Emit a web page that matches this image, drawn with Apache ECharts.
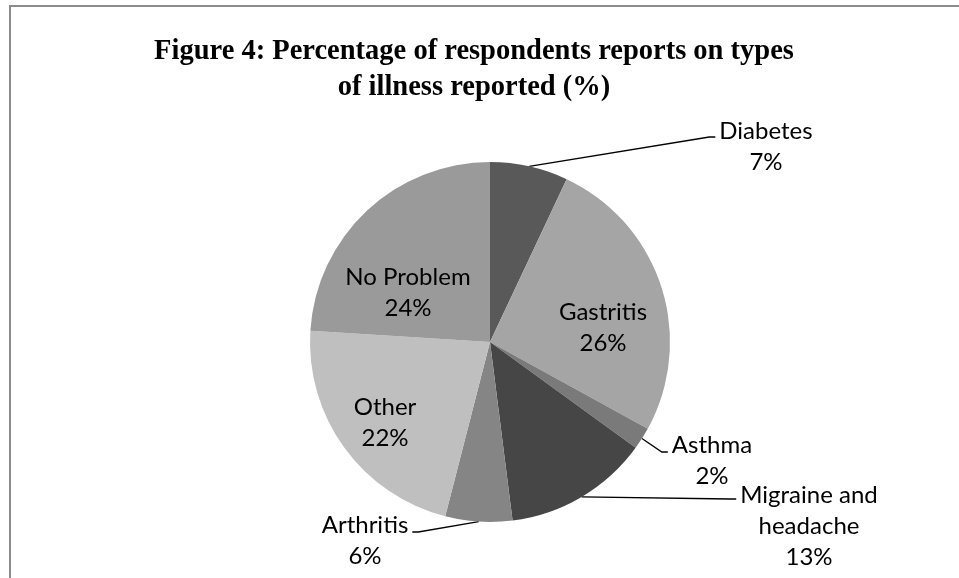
<!DOCTYPE html>
<html>
<head>
<meta charset="utf-8">
<script src="https://cdn.jsdelivr.net/npm/echarts@6/dist/echarts.min.js"></script>
<style>
html,body{margin:0;padding:0;background:#fff;}
#frame{position:absolute;left:9px;top:5px;width:1000px;height:700px;border-left:2px solid #8c8c8c;border-top:2px solid #8c8c8c;box-sizing:border-box;}
#chart{position:absolute;left:0;top:0;width:959px;height:578px;}
</style>
</head>
<body>
<div id="frame"></div>
<div id="chart"></div>
<script>
const categories = ['Diabetes', 'Gastritis', 'Asthma', 'Migraine and\nheadache', 'Arthritis', 'Other', 'No Problem'];
const values = [7, 26, 2, 13, 6, 22, 24];
const colors = ['#595959', '#a5a5a5', '#7a7a7a', '#464646', '#858585', '#bfbfbf', '#9a9a9a'];
const insideSet = ['Gastritis', 'Other', 'No Problem'];

// label placement: [centre x, centre y of text, leader-line attach y]
const labelPos = {
  'Diabetes': [766, 147, 137],
  'Gastritis': [603, 328, 328],
  'Asthma': [712, 461, 452],
  'Migraine and\nheadache': [809, 526, 499],
  'Arthritis': [365, 541, 532],
  'Other': [385, 423, 423],
  'No Problem': [408, 293, 293]
};

const txt = {fontFamily: 'Lato', fontSize: 24, color: '#000', lineHeight: 31};

const chart = echarts.init(document.getElementById('chart'));
chart.setOption({
  animation: false,
  title: {
    text: 'Figure 4: Percentage of respondents reports on types\nof illness reported (%)',
    left: 469, top: 29, textAlign: 'center',
    textStyle: {fontFamily: 'Liberation Serif', fontWeight: 'bold', fontSize: 28.5, color: '#000', lineHeight: 36}
  },
  series: [{
    type: 'pie',
    center: [490, 342],
    radius: 180,
    startAngle: 90,
    clockwise: true,
    data: categories.map((c, i) => {
      const lp = labelPos[c];
      const shift = lp[1] - lp[2];
      const lines = c.split('\n').concat([values[i] + '%']).map(s => '{t|' + s + '}');
      const rich = {t: Object.assign({padding: [0, 4, 0, 4]}, txt)};
      let fmt = lines.join('\n');
      if (shift > 0) {
        rich.pad = {fontSize: 1, lineHeight: shift * 2, height: shift * 2};
        fmt = '{pad| }\n' + fmt;
      }
      return {
        name: c, value: values[i],
        itemStyle: {color: colors[i]},
        label: {
          position: insideSet.includes(c) ? 'inside' : 'outside',
          formatter: fmt,
          rich: rich
        },
        labelLine: {show: !insideSet.includes(c)}
      };
    }),
    label: Object.assign({align: 'center'}, txt),
    labelLine: {lineStyle: {color: '#000', width: 1.3}, length: 10, length2: 6, smooth: false},
    labelLayout: function (p) {
      const lp = labelPos[categories[p.dataIndex]];
      return {x: lp[0], y: lp[2], align: 'center', verticalAlign: 'middle'};
    },
    emphasis: {disabled: true}
  }]
});
</script>
</body>
</html>
